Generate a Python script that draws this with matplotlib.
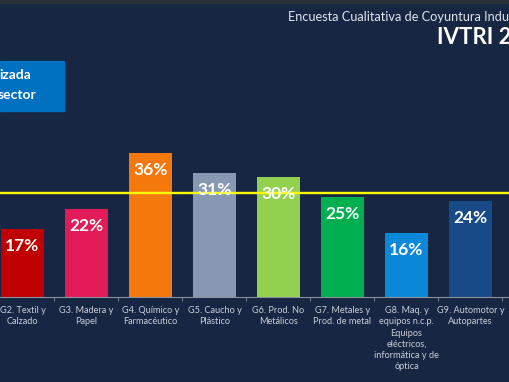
import matplotlib
matplotlib.use("Agg")
import matplotlib.pyplot as plt
from matplotlib.patches import Rectangle

plt.rcParams["font.family"] = ["Lato", "DejaVu Sans"]

# ---------- DATA ----------
categories = [
    "G2. Textil y\nCalzado",
    "G3. Madera y\nPapel",
    "G4. Químico y\nFarmacéutico",
    "G5. Caucho y\nPlástico",
    "G6. Prod. No\nMetálicos",
    "G7. Metales y\nProd. de metal",
    "G8. Maq. y\nequipos n.c.p.\nEquipos\neléctricos,\ninformática y de\nóptica",
    "G9. Automotor y\nAutopartes",
]
values = [17, 22, 36, 31, 30, 25, 16, 24]
colors = ["#c00000", "#e11b58", "#f5780c", "#8799b2",
          "#92d050", "#00b050", "#0b88d8", "#184a88"]
reference_line = 26

title_top = "Encuesta Cualitativa de Coyuntura Industrial"
title_main = "IVTRI 2"
box_lines = ["izada", "sector"]

BG = "#172643"
W, H = 510, 382

fig = plt.figure(figsize=(W / 100, H / 100), dpi=100)
fig.patch.set_facecolor(BG)

# thin dark strip at very top of the slide
fig.patches.append(Rectangle((0, 1 - 3 / H), 1, 3 / H, transform=fig.transFigure,
                             color="#2b2f36", zorder=0))

# axes: baseline at y=297px (from top), 4px per percentage point
base = (H - 297) / H
ax = fig.add_axes([0, base, 1, 200 / H])
ax.set_facecolor(BG)
x = list(range(len(values)))
ax.bar(x, values, width=0.67, color=colors, zorder=2)

for xi, v in zip(x, values):
    ax.annotate(f"{v}%", (xi, v), xytext=(0, -12.5), textcoords="offset points",
                ha="center", va="center", color="white", fontsize=12.5,
                fontweight="bold", zorder=4)

ax.axhline(reference_line, color="#ffff00", lw=1.7, zorder=3)

for s in ["top", "right", "left"]:
    ax.spines[s].set_visible(False)
ax.spines["bottom"].set_color("#8a919e")
ax.spines["bottom"].set_linewidth(0.8)
ax.set_yticks([])
ax.set_xticks([i + 0.5 for i in range(len(values))], minor=True)
ax.tick_params(axis="x", which="minor", length=3, color="#8a919e", direction="out")
ax.set_xticks(x)
ax.set_xticklabels(categories, color="#c9ced8", fontsize=6.6, linespacing=1.32)
ax.tick_params(axis="x", which="major", length=0, pad=6.5)
# the slide is cropped: first bar touches the left edge
ax.set_xlim(-22.5 / 64, (510 - 22.5) / 64)
ax.set_ylim(0, 50)

# header texts
fig.text(288 / W, 1 - 17 / H, title_top, color="#dfe3ea", fontsize=9.2,
         ha="left", va="center")
fig.text(437 / W, 1 - 37 / H, title_main, color="white", fontsize=16,
         fontweight="bold", ha="left", va="center")

# blue box at left
fig.patches.append(Rectangle((0, 1 - 111 / H), 64 / W, 50 / H,
                             transform=fig.transFigure, color="#0070c0", zorder=1))
fig.text(-1 / W, 1 - 75 / H, box_lines[0], color="white", fontsize=10,
         fontweight="bold", ha="left", va="center")
fig.text(-2 / W, 1 - 95 / H, box_lines[1], color="white", fontsize=10,
         fontweight="bold", ha="left", va="center")

fig.savefig("out.png", dpi=100, facecolor=fig.get_facecolor())
